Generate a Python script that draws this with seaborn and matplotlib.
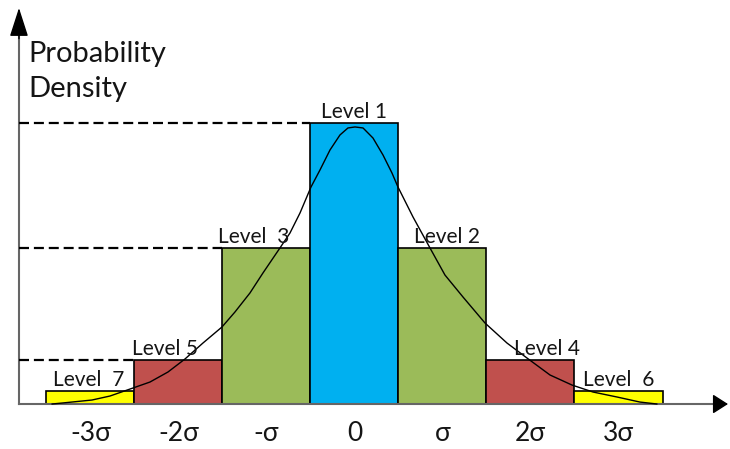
import numpy as np
import pandas as pd
import matplotlib
matplotlib.use("Agg")
import matplotlib.pyplot as plt
import seaborn as sns

# --- DATA ---
levels = ['Level  7', 'Level 5', 'Level  3', 'Level 1', 'Level 2', 'Level 4', 'Level  6']
centers = [-3, -2, -1, 0, 1, 2, 3]          # bar centres, in sigma
heights = [0.0185, 0.0626, 0.222, 0.400, 0.222, 0.0626, 0.0185]
tick_labels = ['-3σ', '-2σ', '-σ', '0', 'σ', '2σ', '3σ']

# density curve
curve_x = [-3.438, -3.324, -2.983, -2.778, -2.517, -2.324, -2.119, -1.926, -1.722, -1.506,
           -1.358, -1.188, -1.040, -0.847, -0.733, -0.619, -0.494, -0.392, -0.278, -0.165,
           -0.074, 0.006, 0.097, 0.210, 0.324, 0.426, 0.494, 0.665, 0.858, 1.028,
           1.233, 1.483, 1.733, 1.960, 2.222, 2.472, 2.710, 2.983, 3.244, 3.438]
curve_y = [0.0, 0.0014, 0.0057, 0.0114, 0.0228, 0.0313, 0.0456, 0.0641, 0.0868, 0.1096,
           0.1310, 0.1580, 0.1865, 0.2221, 0.2434, 0.2719, 0.3089, 0.3331, 0.3616, 0.3829,
           0.3929, 0.3943, 0.3929, 0.3786, 0.3544, 0.3288, 0.3089, 0.2662, 0.2221, 0.1836,
           0.1523, 0.1153, 0.0868, 0.0655, 0.0413, 0.0270, 0.0171, 0.0100, 0.0028, 0.0]

# --- STYLE ---
COLORS = ['#FFFF00', '#C0504D', '#9BBB59', '#00B0F0', '#9BBB59', '#C0504D', '#FFFF00']
AXIS_GRAY = '#666666'
TEXT = '#151515'
label_dx = [-0.02, -0.15, -0.14, 0.0, 0.05, 0.19, 0.0]   # label nudges (sigma)

sns.set_style('white')
plt.rcParams['font.family'] = ['Lato', 'DejaVu Sans']

fig = plt.figure(figsize=(7.3, 4.49), dpi=100)
ax = fig.add_axes([0, 0, 1, 1])

df = pd.DataFrame({'pos': centers, 'density': heights, 'level': levels})
sns.barplot(data=df, x='pos', y='density', hue='level',
            palette=dict(zip(levels, COLORS)), native_scale=True, width=1,
            dodge=False, legend=False, saturation=1,
            edgecolor='black', linewidth=1.2, ax=ax)

sns.lineplot(x=curve_x, y=curve_y, color='black', linewidth=1.0,
             sort=False, estimator=None, ax=ax, zorder=3)

x_min, x_max = -4.028, 4.267
y_min, y_max = -0.064, 0.575
y_axis_x = -3.8125
ax.set_xlim(x_min, x_max)
ax.set_ylim(y_min, y_max)

# dashed guides from the y axis to the left-half bars
for i in [1, 2, 3]:
    ax.hlines(heights[i], y_axis_x, centers[i] - 0.5, colors='black',
              linewidth=1.6, linestyles=(0, (4.5, 2.2)), zorder=3)

# axes as arrows
for s in ['top', 'right']:
    ax.spines[s].set_visible(False)
ax.spines['bottom'].set_position(('data', 0))
ax.spines['left'].set_position(('data', y_axis_x))
ax.spines['bottom'].set_bounds(y_axis_x, 4.12)
ax.spines['left'].set_bounds(0, 0.53)
for s in ['bottom', 'left']:
    ax.spines[s].set_color(AXIS_GRAY)
    ax.spines[s].set_linewidth(1.5)

ax.annotate('', xy=(4.244, 0), xytext=(4.09, 0),
            arrowprops=dict(arrowstyle='-|>,head_length=0.47,head_width=0.3',
                            color='black', mutation_scale=20, shrinkA=0, shrinkB=0))
ax.annotate('', xy=(y_axis_x, 0.5637), xytext=(y_axis_x, 0.52),
            arrowprops=dict(arrowstyle='-|>,head_length=0.9,head_width=0.29',
                            color='black', mutation_scale=20, shrinkA=0, shrinkB=0))

ax.set_xticks(centers, tick_labels)
ax.set_yticks([])
ax.tick_params(axis='x', direction='inout', length=11, width=1,
               color=AXIS_GRAY, pad=7, labelsize=19, labelcolor=TEXT)
ax.set_xlabel('')
ax.set_ylabel('')

# level labels
for c, h, lab, dx in zip(centers, heights, levels, label_dx):
    ax.annotate(lab, xy=(c + dx, h), xytext=(0, 3.5), textcoords='offset points',
                ha='center', va='baseline', fontsize=15, color=TEXT, zorder=4)

ax.text(-3.71, 0.4868, 'Probability', fontsize=21, ha='left', va='baseline', color=TEXT)
ax.text(-3.71, 0.437, 'Density', fontsize=21, ha='left', va='baseline', color=TEXT)

fig.savefig('out.png', dpi=100, facecolor='white')
